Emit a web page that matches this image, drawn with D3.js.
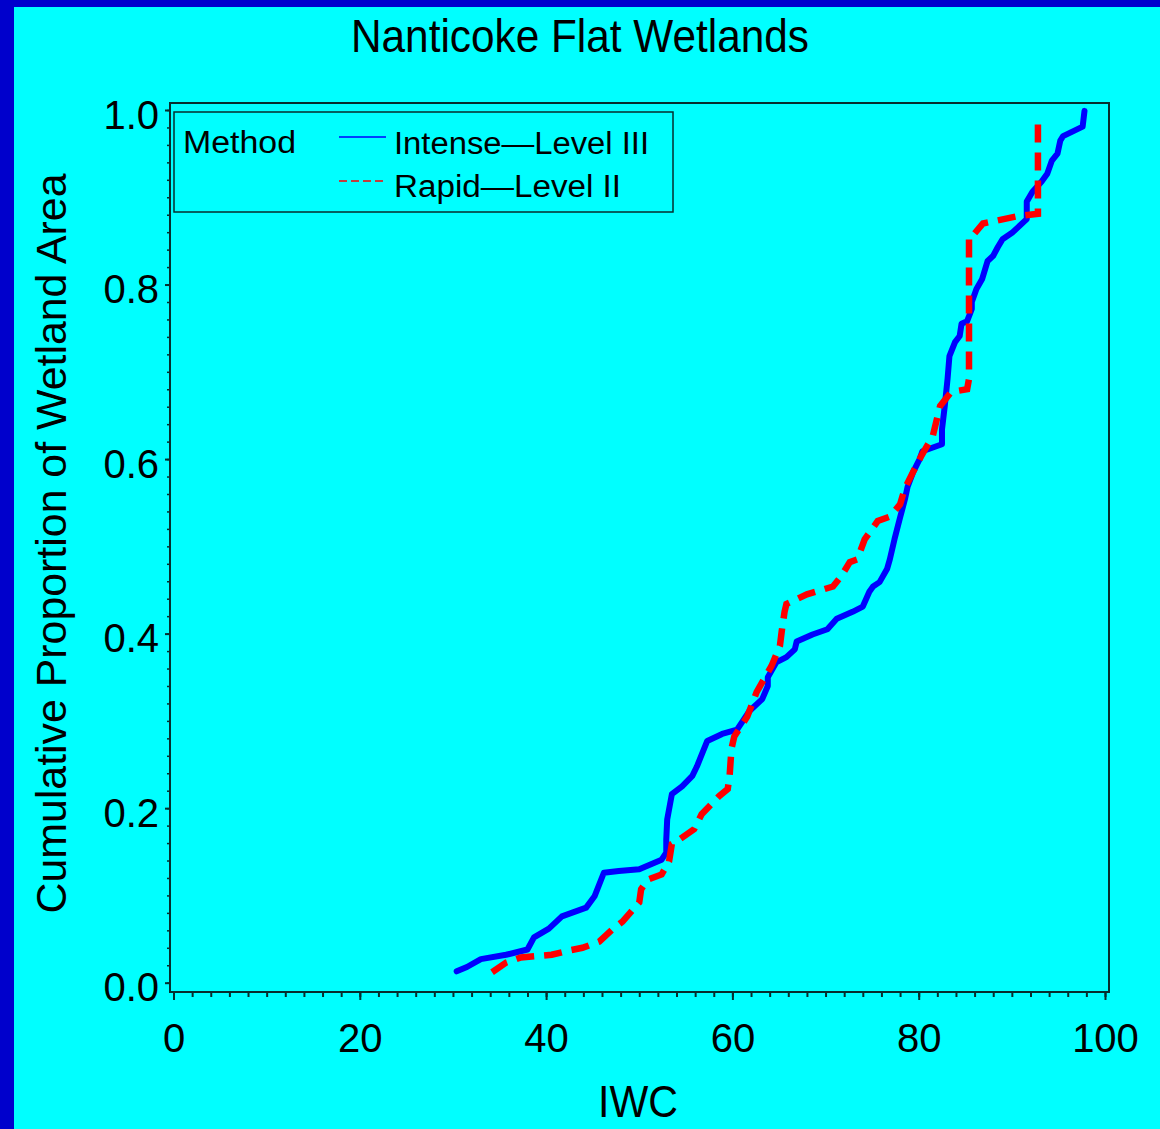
<!DOCTYPE html>
<html>
<head>
<meta charset="utf-8">
<script src="https://cdn.jsdelivr.net/npm/d3@7/dist/d3.min.js"></script>
<style>
  html, body { margin: 0; padding: 0; background: #0000cc; }
  svg { display: block; }
  text { font-family: "Liberation Sans", Arial, Helvetica, sans-serif; fill: #000; }
</style>
</head>
<body>
<script>
// ---- data ----
const title = "Nanticoke Flat Wetlands";
const xLabel = "IWC";
const yLabel = "Cumulative Proportion of Wetland Area";
const legendTitle = "Method";
const seriesNames = ["Intense\u2014Level III", "Rapid\u2014Level II"];
const xTicks = [0, 20, 40, 60, 80, 100];
const yTicks = [0.0, 0.2, 0.4, 0.6, 0.8, 1.0];

const intenseIWC = [30.4,31.5,33.0,35.7,38.0,38.7,40.3,41.7,44.3,45.2,46.2,47.8,50.0,52.4,52.9,52.9,53.0,53.5,54.6,55.7,56.2,57.3,58.9,60.5,61.0,61.8,63.2,63.8,63.8,64.7,65.8,66.7,66.9,68.6,70.2,71.2,72.9,74.0,74.7,75.1,75.8,76.6,76.9,77.4,78.0,78.5,78.8,79.4,80.1,80.4,82.5,82.5,82.8,83.1,83.3,83.9,84.4,84.6,85.2,85.7,85.7,86.2,86.8,87.4,88.0,88.5,89.0,90.1,91.6,91.6,92.2,93.2,93.8,94.3,94.9,95.2,95.5,97.6,97.8];
const intenseCum = [0.013,0.018,0.027,0.032,0.038,0.052,0.062,0.076,0.086,0.099,0.126,0.128,0.130,0.141,0.149,0.164,0.187,0.216,0.225,0.237,0.248,0.277,0.285,0.290,0.298,0.311,0.325,0.340,0.350,0.367,0.373,0.382,0.391,0.399,0.405,0.417,0.425,0.431,0.448,0.454,0.459,0.474,0.485,0.508,0.533,0.553,0.568,0.585,0.600,0.609,0.617,0.634,0.661,0.692,0.718,0.734,0.741,0.755,0.758,0.772,0.780,0.795,0.806,0.827,0.833,0.843,0.852,0.860,0.875,0.895,0.906,0.918,0.927,0.942,0.950,0.965,0.970,0.981,0.999];

const rapidIWC = [34.2,35.7,37.3,40.6,42.5,43.9,45.7,47.1,48.2,50.0,50.2,50.9,52.4,53.2,53.5,54.3,55.9,56.7,58.6,59.5,59.7,59.9,60.2,61.6,62.6,64.2,65.1,65.3,65.6,65.8,68.0,70.8,71.7,72.6,73.4,74.2,75.6,76.9,78.0,78.5,79.2,80.3,81.5,82.3,83.5,85.2,85.4,85.4,85.8,86.9,90.5,91.2,92.8,92.8];
const rapidCum = [0.012,0.023,0.029,0.032,0.037,0.040,0.047,0.061,0.070,0.092,0.107,0.118,0.124,0.139,0.159,0.164,0.176,0.193,0.214,0.222,0.237,0.268,0.282,0.305,0.333,0.363,0.386,0.403,0.425,0.434,0.445,0.454,0.466,0.482,0.485,0.508,0.529,0.534,0.548,0.566,0.581,0.604,0.626,0.661,0.677,0.680,0.692,0.855,0.856,0.870,0.878,0.879,0.881,0.988];

// ---- layout ----
const W = 1160, H = 1129;
const frame = { left: 170, right: 1109, top: 103, bottom: 992 };
const ink = "#062e2e";

const svg = d3.select("body").append("svg").attr("width", W).attr("height", H);
svg.append("rect").attr("x", 0).attr("y", 0).attr("width", W).attr("height", H).attr("fill", "#0000cc");
svg.append("rect").attr("x", 14).attr("y", 7).attr("width", W - 14).attr("height", H - 7).attr("fill", "#00ffff");

const x = d3.scaleLinear().domain([0, 100]).range([173.5, 1105]);
const y = d3.scaleLinear().domain([0, 1]).range([982.7, 110]);

// frame
svg.append("rect")
  .attr("x", frame.left).attr("y", frame.top)
  .attr("width", frame.right - frame.left).attr("height", frame.bottom - frame.top)
  .attr("fill", "none").attr("stroke", ink).attr("stroke-width", 2);

// x axis minor + major
const xMinor = d3.range(0, 101, 2);
svg.append("g").attr("transform", `translate(0,${frame.bottom})`)
  .call(d3.axisBottom(x).tickValues(xMinor).tickSize(5).tickFormat(""))
  .call(g => g.select(".domain").remove())
  .call(g => g.selectAll("line").attr("stroke", ink).attr("stroke-width", 2));
svg.append("g").attr("transform", `translate(0,${frame.bottom})`)
  .call(d3.axisBottom(x).tickValues(xTicks).tickSize(8).tickFormat(d3.format("d")))
  .call(g => g.select(".domain").remove())
  .call(g => g.selectAll("line").attr("stroke", ink).attr("stroke-width", 2))
  .call(g => g.selectAll("text").attr("y", 60).attr("dy", 0)
    .attr("font-size", 40).attr("fill", "#000")
    .style("font-family", "'Liberation Sans', Arial, sans-serif"));

// y axis minor + major
const yMinor = d3.range(0, 51).map(i => i * 0.02);
svg.append("g").attr("transform", `translate(${frame.left},0)`)
  .call(d3.axisLeft(y).tickValues(yMinor).tickSize(3).tickFormat(""))
  .call(g => g.select(".domain").remove())
  .call(g => g.selectAll("line").attr("stroke", ink).attr("stroke-width", 1.5));
svg.append("g").attr("transform", `translate(${frame.left},0)`)
  .call(d3.axisLeft(y).tickValues(yTicks).tickSize(5).tickFormat(d3.format(".1f")))
  .call(g => g.select(".domain").remove())
  .call(g => g.selectAll("line").attr("stroke", ink).attr("stroke-width", 2))
  .call(g => g.selectAll("text").attr("x", -11).attr("y", 18).attr("dy", 0)
    .attr("font-size", 40).attr("fill", "#000")
    .style("font-family", "'Liberation Sans', Arial, sans-serif"));

// lines
const line = d3.line().x(d => x(d[0])).y(d => y(d[1]));
const intensePts = intenseIWC.map((v, i) => [v, intenseCum[i]]);
const rapidPts = rapidIWC.map((v, i) => [v, rapidCum[i]]);

svg.append("path").datum(intensePts).attr("d", line)
  .attr("fill", "none").attr("stroke", "#0000ff").attr("stroke-width", 6)
  .attr("stroke-linejoin", "round").attr("stroke-linecap", "round");
svg.append("path").datum(rapidPts).attr("d", line)
  .attr("fill", "none").attr("stroke", "#ff0000").attr("stroke-width", 6.5)
  .attr("stroke-dasharray", "18,10").attr("stroke-linejoin", "miter");

// legend
const lg = svg.append("g");
lg.append("rect").attr("x", 174).attr("y", 112).attr("width", 499).attr("height", 100)
  .attr("fill", "none").attr("stroke", ink).attr("stroke-width", 1.5);
lg.append("text").attr("x", 183).attr("y", 153).attr("font-size", 31)
  .attr("textLength", 113).attr("lengthAdjust", "spacingAndGlyphs").text(legendTitle);
lg.append("line").attr("x1", 339).attr("x2", 386).attr("y1", 137).attr("y2", 137)
  .attr("stroke", "#0000ff").attr("stroke-width", 1.5);
lg.append("line").attr("x1", 339).attr("x2", 386).attr("y1", 181).attr("y2", 181)
  .attr("stroke", "#ff0000").attr("stroke-width", 1.5).attr("stroke-dasharray", "8,4");
lg.append("text").attr("x", 394).attr("y", 154).attr("font-size", 31)
  .attr("textLength", 255).attr("lengthAdjust", "spacingAndGlyphs").text(seriesNames[0]);
lg.append("text").attr("x", 394).attr("y", 197).attr("font-size", 31)
  .attr("textLength", 227).attr("lengthAdjust", "spacingAndGlyphs").text(seriesNames[1]);

// title
svg.append("text").attr("x", 351).attr("y", 52).attr("font-size", 46)
  .attr("textLength", 458).attr("lengthAdjust", "spacingAndGlyphs").text(title);

// axis labels
svg.append("text").attr("x", 598).attr("y", 1117).attr("font-size", 45)
  .attr("textLength", 80).attr("lengthAdjust", "spacingAndGlyphs").text(xLabel);
svg.append("text").attr("transform", "translate(66,543.5) rotate(-90)")
  .attr("text-anchor", "middle").attr("font-size", 42)
  .attr("textLength", 740).attr("lengthAdjust", "spacingAndGlyphs").text(yLabel);
</script>
</body>
</html>
